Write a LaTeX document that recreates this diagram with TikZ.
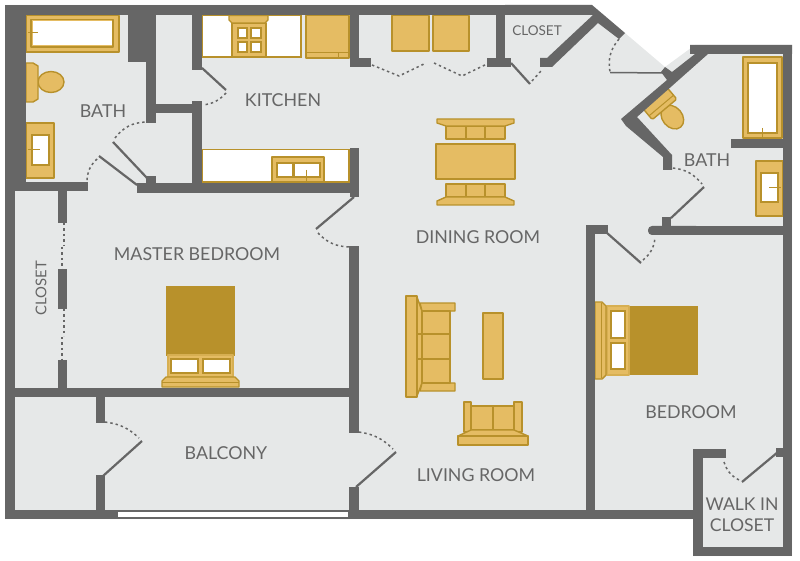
\documentclass[tikz,border=0pt]{standalone}
\usepackage{fontspec}
\setmainfont{Lato}
\usetikzlibrary{positioning}
\definecolor{wallgray}{HTML}{666666}
\definecolor{floorgray}{HTML}{E6E8E8}
\definecolor{goldfill}{HTML}{E5BC63}
\definecolor{goldline}{HTML}{B8912B}

\begin{document}
\begin{tikzpicture}[
    x=1pt, y=-1pt,
    wall/.style={fill=wallgray},
    leaf/.style={draw=wallgray, line width=2.2pt},
    swing/.style={draw=wallgray, line width=1.5pt, dash pattern=on 2.4pt off 3pt},
    gold/.style={draw=goldline, fill=goldfill, line width=1.4pt, line join=round},
    blank/.style={draw=goldline, fill=white, line width=1.4pt},
    quilt/.style={fill=goldline},
    room/.style={text=wallgray, font=\fontsize{17.8}{20}\selectfont, align=center, inner sep=0pt},
    smallroom/.style={room, font=\fontsize{13.5}{16}\selectfont}
]
\useasboundingbox (0,0) rectangle (800,561);

% Floor
\fill[floorgray] (5,5) -- (592,5) -- (625,33) -- (665,67) -- (695,45) -- (792,45)
  -- (792,556) -- (693,556) -- (693,519) -- (5,519) -- cycle;

% Kitchen counters
\draw[blank] (202.5,15.5) rectangle (301,57);
\draw[gold] (232,23) rectangle (266,57);
\draw[gold] (229,15.5) -- (268,15.5) -- (268,20) -- (265,23) -- (232,23) -- (229,20) -- cycle;
\draw[blank] (238,28) rectangle (247,38);
\draw[blank] (251,28) rectangle (261,38);
\draw[blank] (238,42) rectangle (247,52);
\draw[blank] (251,42) rectangle (261,52);
\draw[gold] (306,15.5) rectangle (349,58);
\draw[goldline, line width=1pt] (306,53) -- (349,53) (338,53) -- (338,58);
\draw[gold] (392,15.5) rectangle (429,51);
\draw[gold] (433,15.5) rectangle (469,51);
\draw[blank] (202.5,149.5) rectangle (349,182);
\draw[gold] (272,157) rectangle (324,182);
\draw[blank] (277,163) rectangle (293,177);
\draw[blank] (294,163) rectangle (320,177);
\draw[goldline, line width=1pt] (306,170) -- (306,182);

% Dining table and benches
\draw[gold] (436,144) rectangle (515,179);
\draw[gold] (446,126) rectangle (505,139);
\draw[gold] (466,126) -- (466,139) (485,126) -- (485,139);
\draw[gold] (437,119) -- (514,119) -- (514,123) -- (505,126) -- (446,126) -- (437,123) -- cycle;
\draw[gold] (446,184) rectangle (505,197);
\draw[gold] (466,184) -- (466,197) (485,184) -- (485,197);
\draw[gold] (446,197) -- (505,197) -- (514,201) -- (514,205) -- (437,205) -- (437,201) -- cycle;

% Sofa, low table, loveseat
\draw[gold] (417,297) -- (422,311) -- (422,383) -- (417,396) -- cycle;
\draw[gold] (420,303) -- (455,303) -- (455,311) -- (422,311) -- cycle;
\draw[gold] (422,383) -- (455,383) -- (455,391) -- (420,391) -- cycle;
\draw[gold] (422,311) rectangle (450,383);
\draw[gold] (417,334) -- (450,334) (417,359) -- (450,359);
\draw[gold] (406,296) rectangle (417,397);
\draw[gold] (483,313) rectangle (503,379);
\draw[gold] (471,406) rectangle (514,430);
\draw[gold] (493,406) -- (493,436);
\draw[gold] (464,402) rectangle (471,432);
\draw[gold] (514,402) rectangle (522,432);
\draw[gold] (471,430) -- (514,430) -- (528,436) -- (458,436) -- cycle;
\draw[gold] (458,436) rectangle (528,445);

% Master bed
\fill[quilt] (166,286) rectangle (235,356);
\draw[gold, draw=goldfill!70!goldline] (168,355) rectangle (233,377);
\draw[blank] (171,359) rectangle (198,373);
\draw[blank] (203,359) rectangle (230,373);
\draw[gold] (162,387) -- (162,381) -- (166,377) -- (235,377) -- (239,381) -- (239,387) -- cycle;
\draw[goldline, line width=1pt] (162,382) -- (239,382);

% Bed
\fill[quilt] (629,306) rectangle (698,375);
\draw[gold, draw=goldfill!70!goldline] (607,306) rectangle (629,375);
\draw[blank] (611,311) rectangle (625,338);
\draw[blank] (611,343) rectangle (625,369);
\draw[gold] (595,302) -- (602,302) -- (606,306) -- (606,375) -- (602,379) -- (595,379) -- cycle;
\draw[goldline, line width=1pt] (601,303) -- (601,378);

% Left bath fixtures
\draw[gold] (26,15.5) rectangle (119,52);
\draw[gold] (31,19.5) rectangle (113,47);
\fill[white] (33,21) rectangle (111.5,45.5);
\draw[goldline, line width=1pt] (28,33) -- (38,33);
\draw[gold] (51,82) ellipse [x radius=13pt, y radius=10.5pt];
\draw[gold] (26,63) -- (33,63) -- (38,66) -- (38,99) -- (33,102) -- (26,102) -- cycle;
\draw[gold] (26,123) rectangle (54,178);
\draw[blank] (32,135) rectangle (49,165);
\draw[goldline, line width=1pt] (28,150) -- (40,150);

% Right bath fixtures
\draw[gold] (743,57) rectangle (782,138);
\draw[blank] (748,63) rectangle (777,133);
\draw[goldline, line width=1pt] (762,128) -- (762,138);
\draw[gold] (756,161) rectangle (783,216);
\draw[blank] (761,173) rectangle (778,202);
\draw[goldline, line width=1pt] (769,188) -- (781,188);
\begin{scope}[shift={(660,104)}, rotate=40]
  \draw[gold] (1,18) ellipse [x radius=10pt, y radius=13pt];
  \draw[gold, rounded corners=1.5pt] (-16,-7) rectangle (16,7);
  \draw[goldline, line width=1pt] (-16,2) -- (16,2);
\end{scope}

% Walls
\fill[wall] (5,5) rectangle (592,15);
\fill[wall] (5,5) rectangle (26,182);
\fill[wall] (5,182) rectangle (88,191);
\fill[wall] (5,182) rectangle (15,519);
\fill[wall] (128,15) rectangle (156,62);
\fill[wall] (146,62) rectangle (156,123);
\fill[wall] (156,104) rectangle (192,113);
\fill[wall] (192,15) rectangle (202,70);
\fill[wall] (192,101) rectangle (202,191);
\fill[wall] (137,183) rectangle (359,193);
\fill[wall] (146,176) rectangle (156,183);
\fill[wall] (350,148) rectangle (359,197);
\fill[wall] (350,15) rectangle (359,67);
\fill[wall] (350,58) rectangle (371,67);
\fill[wall] (496,15) rectangle (505,58);
\fill[wall] (487,58) rectangle (511,67);
\fill[wall] (505,5) -- (592,5) -- (625,33) -- (619,39) -- (598,23) -- (552,67) -- (540,67)
  -- (540,58) -- (547,58) -- (593,15) -- (505,15) -- cycle;
\fill[wall] (690,45) -- (792,45) -- (792,54) -- (708,54) -- (637,117) -- (672,155) -- (672,170)
  -- (663,170) -- (663,157) -- (626,126) -- (621,119) -- (667,80) -- (661,72) -- (665,67)
  -- (672,72) -- (695,54) -- (690,54) -- cycle;
\fill[wall] (731,139) rectangle (792,148);
\fill[wall, rounded corners=4pt] (648,226) rectangle (700,235);
\fill[wall] (660,226) rectangle (792,235);
\fill[wall] (662,217) rectangle (671,226);
\fill[wall] (586,225) rectangle (608,234);
\fill[wall] (586,225) rectangle (595,519);
\fill[wall] (783,45) rectangle (792,556);
\fill[wall] (776,448) rectangle (783,457);
\fill[wall] (693,449) rectangle (726,458);
\fill[wall] (693,449) rectangle (703,556);
\fill[wall] (693,547) rectangle (792,556);
\fill[wall] (359,510) rectangle (693,519);
\fill[wall] (5,510) rectangle (359,519);
\fill[white] (118,511.5) rectangle (348,517);
\fill[wall] (58,191) rectangle (67,223);
\fill[wall] (58,269) rectangle (67,309);
\fill[wall] (58,360) rectangle (67,390);
\fill[wall] (5,388) rectangle (359,397);
\fill[wall] (96,397) rectangle (105,423);
\fill[wall] (96,475) rectangle (105,510);
\fill[wall] (349,246) rectangle (359,433);
\fill[wall] (349,487) rectangle (359,510);

% Doors
\draw[leaf] (202,68) -- (226,90);
\draw[swing] (226,93) to[bend left=20] (203,105);
\draw[leaf] (147,178) -- (113,142);
\draw[swing] (115,138) to[bend left=25] (146,122);
\draw[leaf] (137,185) -- (99,156);
\draw[swing] (97,159) to[bend right=22] (87,181);
\draw[swing] (372,65) -- (399,76) -- (426,63);
\draw[swing] (434,63) -- (462,76) -- (487,64);
\draw[leaf] (511,63) -- (530,84);
\draw[swing] (532,81) -- (541,71);
\draw[swing] (619,39) to[bend right=25] (610,72);
\draw[leaf, line width=1.5pt] (610,72.5) -- (664,73);
\draw[leaf] (671,218) -- (704,187);
\draw[swing] (673,168) to[bend left=22] (702,184);
\draw[leaf] (607,233) -- (641,263);
\draw[swing] (643,260) to[bend right=22] (655,238);
\draw[leaf] (354,197) -- (316,229);
\draw[swing] (318,233) to[bend right=22] (349,247);
\draw[swing] (64,223) -- (64,246) (62,247) -- (62,269);
\draw[swing] (64,309) -- (64,336) (62,337) -- (62,360);
\draw[leaf] (103,476) -- (142,441);
\draw[swing] (105,422) to[bend left=18] (139,438);
\draw[leaf] (356,487) -- (396,452);
\draw[swing] (359,432) to[bend left=18] (393,449);
\draw[leaf] (778,452) -- (742,482);
\draw[swing] (724,462) to[bend right=22] (739,480);

% Labels
\node[room] (bathleft) at (103,111) {BATH};
\node[room] (kitchen) at (283,100) {KITCHEN};
\node[smallroom] (closettop) at (537,31) {CLOSET};
\node[room] (bathright) at (707,160) {BATH};
\node[room] (dining) at (478,237) {DINING ROOM};
\node[room] (master) at (197,254) {MASTER BEDROOM};
\node[smallroom, font=\fontsize{14.8}{16}\selectfont, rotate=90] (closetleft) at (41,288) {CLOSET};
\node[room] (living) at (476,475) {LIVING ROOM};
\node[room] (bedroom) at (691,412) {BEDROOM};
\node[room] (balcony) at (226,453) {BALCONY};
\node[room, font=\fontsize{17.6}{20.5}\selectfont] (walkin) at (742,515) {WALK IN\\CLOSET};
\end{tikzpicture}
\end{document}
